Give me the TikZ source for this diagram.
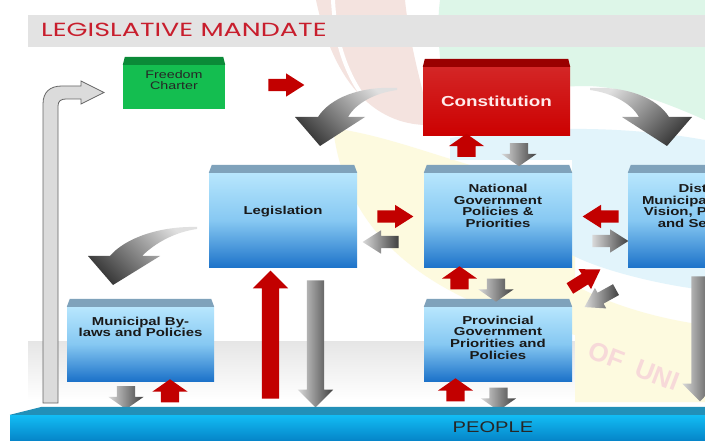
\documentclass[tikz,border=0pt]{standalone}
\usepackage{fontspec}
\setmainfont{Liberation Sans}
\newfontfamily\boxfont[FakeStretch=1.3]{Liberation Sans}
\newfontfamily\headfont[FakeStretch=1.42]{Poppins}
\usetikzlibrary{shapes.arrows, calc}

\definecolor{titlegray}{HTML}{E3E3E3}
\definecolor{titlered}{HTML}{C81E2D}
\definecolor{arrred}{HTML}{C20000}
\definecolor{bevelblue}{HTML}{7FA2BB}
\definecolor{boxtop}{HTML}{B7E6FD}
\definecolor{boxmid}{HTML}{86C8F2}
\definecolor{boxbot}{HTML}{1C72C9}
\definecolor{chartergreen}{HTML}{14BE50}
\definecolor{charterdark}{HTML}{0B8A38}
\definecolor{constred}{HTML}{CC0000}
\definecolor{constdark}{HTML}{990000}
\definecolor{peoplelip}{HTML}{2290B8}
\definecolor{peopletop}{HTML}{12BDF4}
\definecolor{peoplebot}{HTML}{0584C8}
\definecolor{wmpink}{HTML}{F4E3DF}
\definecolor{wmmint}{HTML}{DDF6E8}
\definecolor{wmblue}{HTML}{E2F4FB}
\definecolor{wmyellow}{HTML}{FDFADF}
\definecolor{wmtext}{HTML}{F7D9D9}

\tikzset{
  tier/.style={rectangle, minimum width=148pt, minimum height=95pt, inner sep=0pt,
    top color=boxtop, bottom color=boxbot, middle color=boxmid},
  tier text/.style={font=\boxfont\bfseries\fontsize{11.5}{11.7}\selectfont, align=center, text=black!90, inner sep=0pt},
  bevel/.style={fill=bevelblue},
  red arr/.style={single arrow, draw=none, fill=arrred, inner xsep=0pt},
  gray arr/.style={single arrow, draw=none, left color=black!15, right color=black!75, inner xsep=0pt},
  short arr/.style={minimum height=23pt, inner ysep=9pt, single arrow head extend=8.5pt, single arrow tip angle=110},
  side arr/.style={minimum height=36pt, inner ysep=6pt, single arrow head extend=5.5pt, single arrow tip angle=65},
  long arr/.style={inner ysep=8.5pt, single arrow head extend=9pt},
  bend arr/.style={top color=black!12, bottom color=black!78},
  wm text/.style={font=\bfseries\fontsize{26}{28}\selectfont, text=wmtext, inner sep=0pt},
}

\begin{document}
\begin{tikzpicture}[x=1pt, y=-1pt]
  \useasboundingbox (0,0) rectangle (705,441);
  \clip (0,0) rectangle (705,441);
  \fill[white] (0,0) rectangle (705,441);

  % faded emblem in the background
  \shade[top color=black!10, bottom color=white] (28,341) rectangle (705,400);
  \fill[wmyellow] (333,128) .. controls (345,230) and (420,300) .. (575,335) -- (575,402) -- (705,402)
    -- (705,325) .. controls (650,318) and (600,300) .. (575,285) -- (575,170) -- (470,165)
    .. controls (420,150) and (380,135) .. (333,128) -- cycle;
  \fill[wmblue] (450,138) .. controls (560,122) and (650,130) .. (705,140) -- (705,290)
    .. controls (660,285) and (600,270) .. (572,255) -- (572,160) -- (450,160) -- cycle;
  \fill[wmmint] (440,0) -- (705,0) -- (705,120) .. controls (660,100) and (620,86) .. (585,86)
    .. controls (540,86) and (490,100) .. (448,112) .. controls (440,70) and (436,30) .. (440,0) -- cycle;
  \fill[wmpink] (316,0) -- (405,0) .. controls (410,50) and (425,95) .. (430,125)
    .. controls (380,126) and (335,90) .. (316,0) -- cycle;
  \draw[white, line width=4pt] (333,0) .. controls (335,40) and (345,70) .. (362,95);
  \node[wm text, rotate=-21] (wmark) at (634,366) {OF\hspace{14pt}UNI};

  % heading
  \fill[titlegray] (28,15) rectangle (705,47);
  \node[anchor=west, inner sep=0pt, text=titlered, font=\headfont\fontsize{19}{21}\selectfont] (title) at (41,30) {LEGISLATIVE MANDATE};

  % boxes
  \node[rectangle, minimum width=102pt, minimum height=44pt, inner sep=0pt, fill=chartergreen] (fc) at (174,87) {};
  \fill[charterdark] (fc.north west) -- ++(2,-8) -- ($(fc.north east)+(-2,-8)$) -- (fc.north east) -- cycle;
  \node[inner sep=0pt, align=center, text=black!85, font=\boxfont\fontsize{11}{11}\selectfont] (fctext) at (174,80) {Freedom\\Charter};

  \node[rectangle, minimum width=147pt, minimum height=69pt, inner sep=0pt, top color=constred!85!white, bottom color=constred,
    text=white!92!red, font=\boxfont\bfseries\fontsize{14.5}{16}\selectfont] (con) at (496.5,101.5) {Constitution};
  \fill[constdark] (con.north west) -- ++(2,-8) -- ($(con.north east)+(-2,-8)$) -- (con.north east) -- cycle;

  \node[tier] (leg) at (283,220.5) {};
  \node[tier] (nat) at (498,220.5) {};
  \node[tier] (dist) at (702,220.5) {};
  \node[tier, minimum height=74pt] (prov) at (498,344) {};
  \node[tier, minimum width=147pt, minimum height=74pt] (muni) at (140.5,344) {};
  \foreach \b in {leg,nat,dist,prov,muni}
    \fill[bevel] (\b.north west) -- ++(3,-8) -- ($(\b.north east)+(-3,-8)$) -- (\b.north east) -- cycle;

  \node[tier text] (legtext) at (283,212) {Legislation};
  \node[tier text] (nattext) at (498,206) {National\\Government\\Policies \&\\Priorities};
  \node[tier text, anchor=east, align=right] (disttext) at (707,206) {Dist\\Municipa\\Vision, P\\and Se};
  \node[tier text] (provtext) at (498,337.5) {Provincial\\Government\\Priorities and\\Policies};
  \node[tier text] (munitext) at (140.5,327) {Municipal By-\\laws and Policies};

  % curved arrows
  \shade[bend arr, shading angle=-45] (397,88) .. controls (360,86) and (330,98) .. (318,117) -- (295,117) -- (320,146)
    -- (365,117) -- (348,117) .. controls (356,103) and (375,93) .. (397,90) -- cycle;
  \shade[bend arr, shading angle=45] (590,88) .. controls (627,86) and (657,98) .. (669,117) -- (692,117) -- (667,146)
    -- (622,117) -- (639,117) .. controls (631,103) and (612,93) .. (590,90) -- cycle;
  \shade[bend arr, shading angle=-45] (197,227) .. controls (160,226) and (125,238) .. (110,256) -- (88,256) -- (113,285)
    -- (160,256) -- (142,256) .. controls (155,243) and (175,232) .. (197,229) -- cycle;

  % straight arrows
  \node[red arr, side arr] (fc-con) at (281.5,85) {};
  \node[red arr, short arr, rotate=90] (nat-con) at (466.5,148.5) {};
  \node[gray arr, short arr, rotate=-90] (con-nat) at (519,151.5) {};
  \node[red arr, side arr] (leg-nat) at (390.5,216.5) {};
  \node[gray arr, side arr, rotate=180] (nat-leg) at (385.5,242) {};
  \node[red arr, side arr, rotate=180] (dist-nat) at (605.5,216.5) {};
  \node[gray arr, side arr] (nat-dist) at (605.5,241) {};
  \node[red arr, short arr, rotate=90] (prov-nat) at (459.5,281) {};
  \node[gray arr, short arr, rotate=-90] (nat-prov) at (496,287) {};
  \node[red arr, side arr, rotate=32] (prov-dist) at (581,281.5) {};
  \node[gray arr, side arr, rotate=209] (dist-prov) at (604.5,296) {};
  \node[red arr, long arr, minimum height=128pt, rotate=90] (people-leg) at (270.5,339) {};
  \node[gray arr, long arr, minimum height=127pt, rotate=-90] (leg-people) at (315.5,339.5) {};
  \node[gray arr, short arr, rotate=-90] (muni-people) at (126,394.5) {};
  \node[red arr, short arr, rotate=90] (people-muni) at (170,394) {};
  \node[red arr, short arr, rotate=90] (people-prov) at (455.5,393) {};
  \node[gray arr, short arr, rotate=-90] (prov-people) at (498.5,396) {};
  \node[gray arr, long arr, minimum height=125pt, rotate=-90] (dist-people) at (700,334.5) {};

  % return arrow on the left
  \draw[draw=black!60, fill=black!14, line width=0.8pt] (43,403) -- (43,104) .. controls (43,92) and (50,86) .. (62,86)
    -- (81,86) -- (81,81) -- (104,92.5) -- (81,104) -- (81,99) -- (66,99) .. controls (61,99) and (58,101) .. (58,106)
    -- (58,403) -- cycle;

  % people bar
  \node[rectangle, minimum width=695pt, minimum height=26pt, inner sep=0pt, top color=peopletop, bottom color=peoplebot] (people) at (357.5,428) {};
  \fill[peoplelip] (people.north west) -- ++(32,-8) -- ($(people.north east)+(0,-8)$) -- (people.north east) -- cycle;
  \node[inner sep=0pt, text=black!85, font=\boxfont\fontsize{15.5}{16}\selectfont] (peopletext) at (493,427) {PEOPLE};
\end{tikzpicture}
\end{document}
